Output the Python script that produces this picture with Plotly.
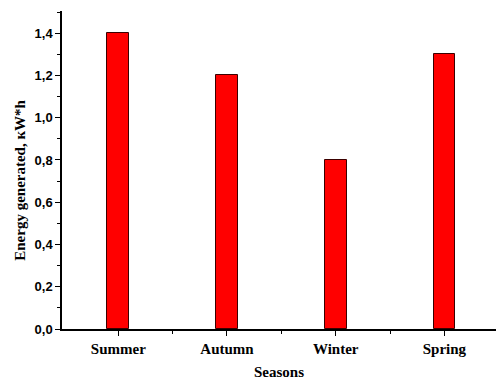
import plotly.graph_objects as go

seasons = ["Summer", "Autumn", "Winter", "Spring"]
energy = [1.4, 1.2, 0.8, 1.3]
y_ticks = [0.0, 0.2, 0.4, 0.6, 0.8, 1.0, 1.2, 1.4]

x_pos = list(range(len(seasons)))

fig = go.Figure(
    go.Bar(
        x=x_pos,
        y=energy,
        width=0.2,
        marker=dict(color="#ff0000", line=dict(color="#3a0000", width=1)),
    )
)

serif = "Liberation Serif, Times New Roman, serif"
sans = "Liberation Sans, Arial, sans-serif"

fig.update_layout(
    width=496,
    height=380,
    margin=dict(l=62, r=0, t=11, b=51),
    paper_bgcolor="white",
    plot_bgcolor="white",
    separators=", ",
    showlegend=False,
    bargap=0,
)

fig.update_xaxes(
    range=[-0.518, 3.475],
    tickvals=x_pos,
    ticktext=["<b>%s</b>" % s for s in seasons],
    tickfont=dict(family=serif, size=15, color="black"),
    ticks="outside",
    ticklen=5,
    tickwidth=1.2,
    tickcolor="black",
    minor=dict(tickvals=[0.5, 1.5, 2.5], ticks="outside", ticklen=3, tickwidth=1.2, tickcolor="black"),
    showline=True,
    linecolor="black",
    linewidth=1.5,
    showgrid=False,
    zeroline=False,
    title=dict(text="<b>Seasons</b>", font=dict(family=serif, size=15, color="black"), standoff=14),
)

fig.update_yaxes(
    range=[0, 1.505],
    tickvals=y_ticks,
    tickformat=".1f",
    tickfont=dict(family=sans, size=13, color="black", weight="bold"),
    ticks="outside",
    ticklen=5,
    tickwidth=1.2,
    tickcolor="black",
    minor=dict(dtick=0.1, tick0=0.1, ticks="outside", ticklen=3, tickwidth=1.2, tickcolor="black"),
    showline=True,
    linecolor="black",
    linewidth=1.5,
    showgrid=False,
    zeroline=False,
)

# y-axis title, placed slightly below the axis midpoint
fig.add_annotation(
    text="<b>Energy generated, кW*h</b>",
    textangle=-90,
    xref="paper",
    yref="paper",
    x=-0.097,
    y=0.469,
    xanchor="center",
    yanchor="middle",
    showarrow=False,
    font=dict(family=serif, size=15, color="black"),
)

fig.write_html("out.html")
